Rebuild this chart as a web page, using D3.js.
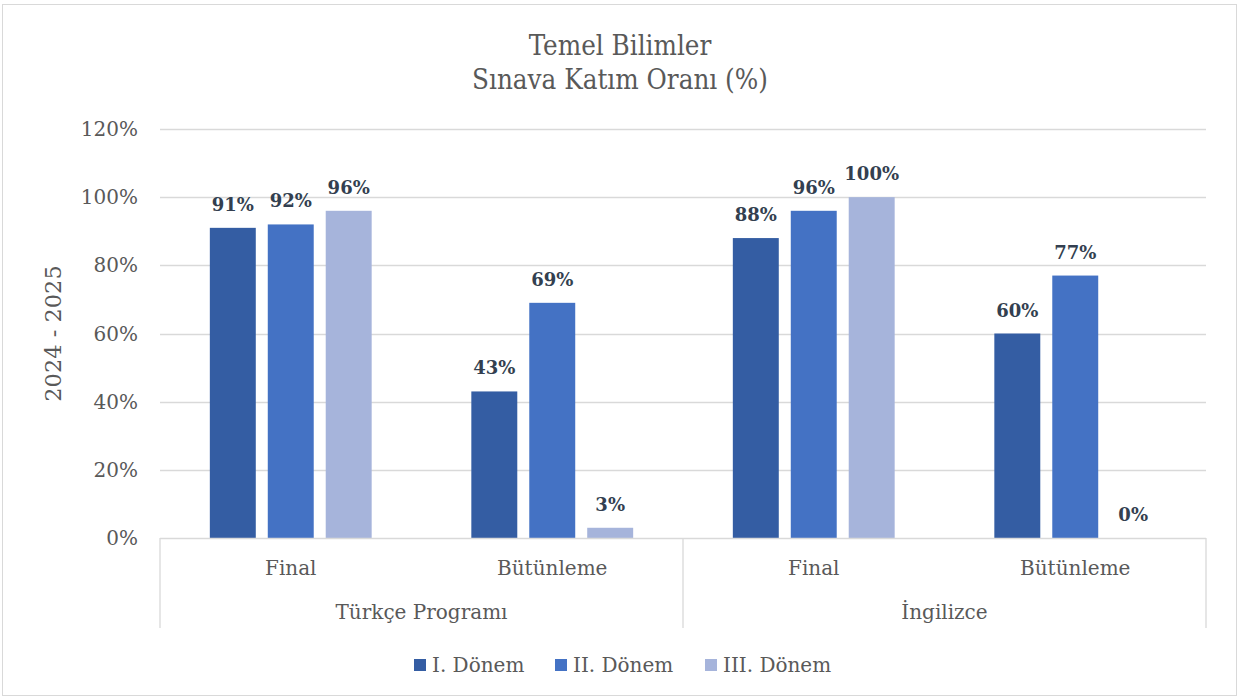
<!DOCTYPE html>
<html>
<head>
<meta charset="utf-8">
<script src="https://cdn.jsdelivr.net/npm/d3@7/dist/d3.min.js"></script>
<style>
  body { margin: 0; background: #fff; }
  svg text { font-family: "DejaVu Serif", serif; }
</style>
</head>
<body>
<div id="chart"></div>
<script>
// data
const programs = ["Türkçe Programı", "İngilizce"];
const exams = ["Final", "Bütünleme"];
const seriesNames = ["I. Dönem", "II. Dönem", "III. Dönem"];
const donem1 = [91, 43, 88, 60];
const donem2 = [92, 69, 96, 77];
const donem3 = [96, 3, 100, 0];
const yTicks = [0, 20, 40, 60, 80, 100, 120];
const colors = ["#345DA3", "#4472C4", "#A6B4DB"];

const W = 1239, H = 699;
const margin = { top: 129, right: 33, bottom: 161, left: 160 };
const plotW = W - margin.left - margin.right;
const plotH = H - margin.top - margin.bottom;

const categories = [];
programs.forEach(p => exams.forEach(e => categories.push({ key: p + "|" + e, program: p, exam: e })));
const seriesValues = [donem1, donem2, donem3];

const svg = d3.select("#chart").append("svg")
    .attr("width", W)
    .attr("height", H);

// outer border
svg.append("rect")
    .attr("x", 2.5).attr("y", 4.5)
    .attr("width", W - 5).attr("height", H - 8)
    .attr("fill", "#fff")
    .attr("stroke", "#D9D9D9");

const g = svg.append("g")
    .attr("transform", `translate(${margin.left},${margin.top})`);

const x = d3.scaleBand()
    .domain(categories.map(d => d.key))
    .range([0, plotW]);

const xInner = d3.scaleBand()
    .domain(seriesNames)
    .range([0, x.bandwidth()])
    .paddingInner(0.207)
    .paddingOuter(0.86);

const y = d3.scaleLinear()
    .domain([0, 120])
    .range([plotH, 0]);

// gridlines
g.selectAll(".grid")
    .data(yTicks.filter(t => t > 0))
    .enter().append("line")
    .attr("x1", 0).attr("x2", plotW)
    .attr("y1", d => Math.round(y(d)) + 0.5)
    .attr("y2", d => Math.round(y(d)) + 0.5)
    .attr("stroke", "#D9D9D9")
    .attr("stroke-width", 1.3);

// y tick labels
g.selectAll(".ytick")
    .data(yTicks)
    .enter().append("text")
    .attr("x", -22)
    .attr("y", d => y(d) + 7)
    .attr("text-anchor", "end")
    .attr("font-size", 20)
    .attr("fill", "#595959")
    .text(d => d + "%");

// y axis title
svg.append("text")
    .attr("transform", `translate(53,${margin.top + y(60)}) rotate(-90)`)
    .attr("text-anchor", "middle")
    .attr("dominant-baseline", "central")
    .attr("font-size", 22.5)
    .attr("fill", "#595959")
    .text("2024 - 2025");

// bars
seriesNames.forEach((s, si) => {
    g.selectAll(".bar" + si)
        .data(categories.map((c, ci) => ({ c: c, v: seriesValues[si][ci] })))
        .enter().append("rect")
        .attr("x", d => x(d.c.key) + xInner(s))
        .attr("y", d => y(d.v))
        .attr("width", xInner.bandwidth())
        .attr("height", d => plotH - y(d.v))
        .attr("fill", colors[si]);

    g.selectAll(".lbl" + si)
        .data(categories.map((c, ci) => ({ c: c, v: seriesValues[si][ci] })))
        .enter().append("text")
        .attr("x", d => x(d.c.key) + xInner(s) + xInner.bandwidth() / 2)
        .attr("y", d => y(d.v) - 17)
        .attr("text-anchor", "middle")
        .attr("font-size", 18)
        .attr("font-weight", "bold")
        .attr("fill", "#333F50")
        .text(d => d.v + "%");
});

// category axis line
g.append("line")
    .attr("x1", 0).attr("x2", plotW)
    .attr("y1", plotH + 0.5).attr("y2", plotH + 0.5)
    .attr("stroke", "#D9D9D9")
    .attr("stroke-width", 1.3);

// group separators
const groupW = plotW / programs.length;
d3.range(programs.length + 1).forEach(i => {
    g.append("line")
        .attr("x1", i * groupW).attr("x2", i * groupW)
        .attr("y1", plotH).attr("y2", plotH + 90)
        .attr("stroke", "#D9D9D9")
        .attr("stroke-width", 1.3);
});

// exam labels
g.selectAll(".exam")
    .data(categories)
    .enter().append("text")
    .attr("x", d => x(d.key) + x.bandwidth() / 2)
    .attr("y", plotH + 37)
    .attr("text-anchor", "middle")
    .attr("font-size", 20)
    .attr("fill", "#595959")
    .text(d => d.exam);

// program labels
g.selectAll(".prog")
    .data(programs)
    .enter().append("text")
    .attr("x", (d, i) => i * groupW + groupW / 2)
    .attr("y", plotH + 81)
    .attr("text-anchor", "middle")
    .attr("font-size", 20)
    .attr("fill", "#595959")
    .text(d => d);

// title
const title = svg.append("text")
    .attr("text-anchor", "middle")
    .attr("fill", "#595959")
    .attr("font-size", 27.5)
    .style("font-family", "'DejaVu Serif Condensed', 'DejaVu Serif', serif")
    .style("font-stretch", "condensed");
title.append("tspan").attr("x", 620).attr("y", 55).text("Temel Bilimler");
title.append("tspan").attr("x", 620).attr("y", 89).text("Sınava Katım Oranı (%)");

// legend
const legendX = [414, 555, 705];
const legend = svg.selectAll(".legend")
    .data(seriesNames)
    .enter().append("g")
    .attr("transform", (d, i) => `translate(${legendX[i]},659)`);
legend.append("rect")
    .attr("width", 12).attr("height", 12)
    .attr("fill", (d, i) => colors[i]);
legend.append("text")
    .attr("x", 18).attr("y", 13)
    .attr("font-size", 20)
    .attr("fill", "#595959")
    .text(d => d);
</script>
</body>
</html>
